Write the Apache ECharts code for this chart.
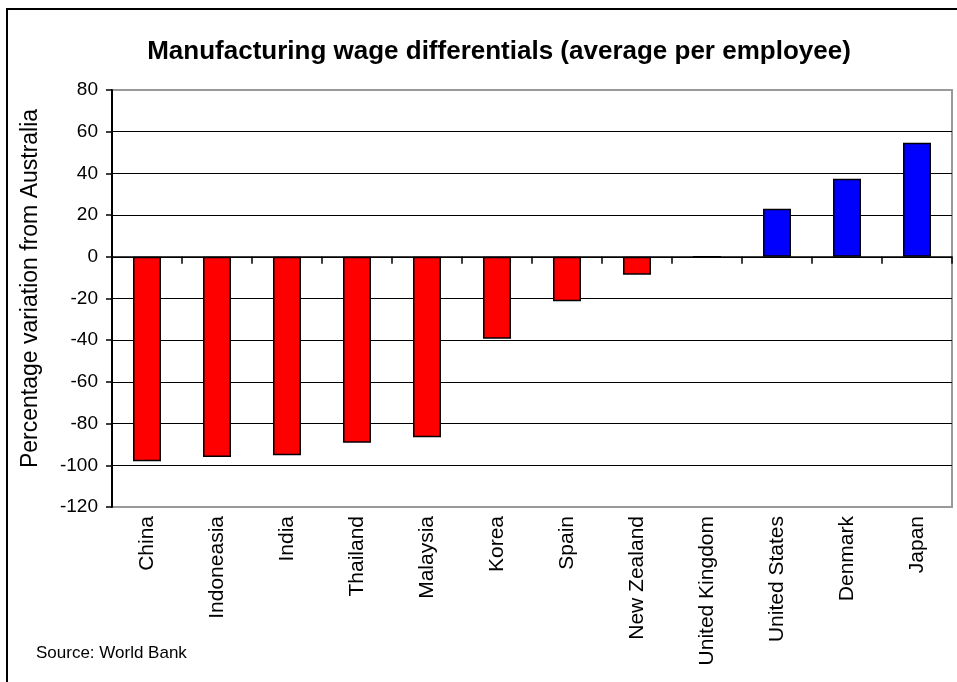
<!DOCTYPE html>
<html>
<head>
<meta charset="utf-8">
<script src="https://cdn.jsdelivr.net/npm/echarts@6/dist/echarts.min.js"></script>
<style>
  html, body { margin: 0; padding: 0; background: #fff; }
  #chart { width: 957px; height: 682px; }
</style>
</head>
<body>
<div id="chart"></div>
<script>
// Manufacturing wage differentials vs Australia (%), World Bank
const countries = ['China', 'Indoneasia', 'India', 'Thailand', 'Malaysia', 'Korea',
  'Spain', 'New Zealand', 'United Kingdom', 'United States', 'Denmark', 'Japan'];
const wageVariation = [-98, -96, -95.2, -89.2, -86.5, -39.3, -21.3, -8.6, 0, 23, 37.4, 54.7];
const yTicks = { min: -120, max: 80, step: 20 };

const FONT = 'Liberation Sans, Arial, sans-serif';

const chart = echarts.init(document.getElementById('chart'), null, { renderer: 'canvas' });

chart.setOption({
  animation: false,
  backgroundColor: '#fff',
  title: {
    text: 'Manufacturing wage differentials (average per employee)',
    left: 494,
    top: 34,
    textAlign: 'center',
    textStyle: { fontFamily: FONT, fontSize: 26, fontWeight: 'bold', color: '#000' }
  },
  graphic: [
    {
      type: 'rect',
      shape: { x: 7, y: 9, width: 1000, height: 700 },
      style: { fill: 'none', stroke: '#000', lineWidth: 2 },
      z: 100
    },
    {
      type: 'text',
      left: 36,
      top: 645,
      style: { text: 'Source: World Bank', font: '17px ' + FONT, fill: '#000' }
    }
  ],
  grid: {
    left: 112, right: 5, top: 90, bottom: 175,
    show: true, borderColor: '#999', borderWidth: 2, backgroundColor: '#fff'
  },
  xAxis: [
    {
      type: 'category',
      data: countries,
      position: 'bottom',
      axisLine: { onZero: true, lineStyle: { color: '#000', width: 1.5 } },
      axisTick: { show: true, interval: 0, alignWithLabel: false, length: 7, lineStyle: { color: '#000', width: 1.5 } },
      axisLabel: { show: false },
      splitLine: { show: false },
      z: 5
    },
    {
      type: 'category',
      data: countries,
      position: 'bottom',
      axisLine: { show: false, onZero: false },
      axisTick: { show: false },
      axisLabel: {
        interval: 0,
        rotate: 90,
        margin: 9,
        fontFamily: FONT,
        fontSize: 21,
        color: '#000'
      }
    }
  ],
  yAxis: {
    type: 'value',
    min: yTicks.min,
    max: yTicks.max,
    interval: yTicks.step,
    name: 'Percentage variation from Australia',
    nameLocation: 'middle',
    nameGap: 70,
    nameTextStyle: { fontFamily: FONT, fontSize: 23, color: '#000', padding: [0, 0, 0, 20] },
    axisLine: { show: true, lineStyle: { color: '#000', width: 2 } },
    axisTick: { show: true, length: 6, lineStyle: { color: '#000', width: 1.5 } },
    axisLabel: { fontFamily: FONT, fontSize: 19, color: '#000', margin: 14 },
    splitLine: { show: true, showMinLine: false, showMaxLine: false, lineStyle: { color: '#000', width: 1 } }
  },
  series: [{
    type: 'bar',
    xAxisIndex: 0,
    data: wageVariation.map(v => ({
      value: v,
      itemStyle: { color: v < 0 ? '#ff0000' : '#0000ff' }
    })),
    barWidth: '40%',
    itemStyle: { borderColor: '#000', borderWidth: 1.5 },
    z: 3
  }]
});
</script>
</body>
</html>
